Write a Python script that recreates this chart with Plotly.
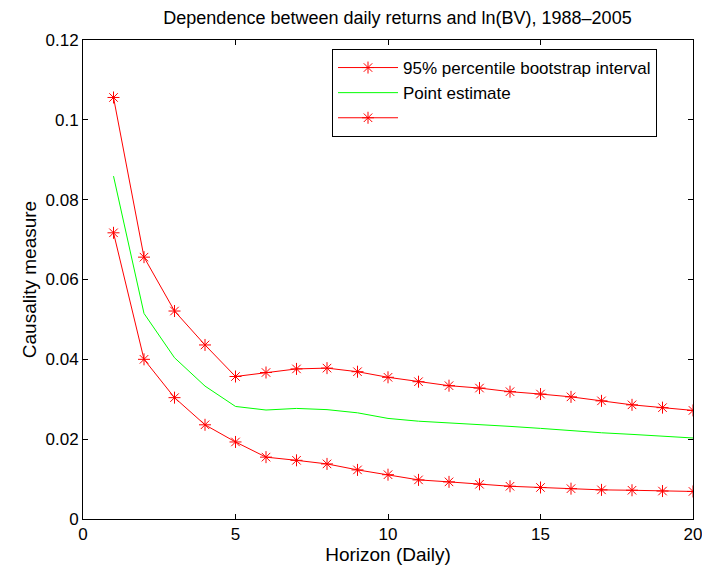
import plotly.graph_objects as go

horizon = list(range(1, 21))
upper = [0.1056, 0.0656, 0.0521, 0.0436, 0.0357, 0.0367, 0.0376, 0.0378, 0.0369, 0.0355,
         0.0344, 0.0334, 0.0328, 0.0319, 0.0313, 0.0306, 0.0296, 0.0286, 0.0279, 0.0272]
point_est = [0.0859, 0.0515, 0.0404, 0.0333, 0.0282, 0.0273, 0.0277, 0.0274, 0.0266, 0.0252,
             0.0245, 0.0241, 0.0236, 0.0232, 0.0227, 0.0221, 0.0216, 0.0212, 0.0208, 0.0203]
lower = [0.0717, 0.0400, 0.0304, 0.0236, 0.0193, 0.0155, 0.0147, 0.0138, 0.0123, 0.0111,
         0.0098, 0.0093, 0.0087, 0.0082, 0.0079, 0.0076, 0.0073, 0.0072, 0.0070, 0.0069]

x_ticks = [0, 5, 10, 15, 20]
y_ticks = [0, 0.02, 0.04, 0.06, 0.08, 0.1, 0.12]
y_ticklabels = ["0", "0.02", "0.04", "0.06", "0.08", "0.1", "0.12"]

FONT = "Liberation Sans"
OFF = 8  # page body margin offset
marker = dict(symbol="asterisk-open", size=10, color="#ff0000", line=dict(color="#ff0000", width=1))

fig = go.Figure()
fig.add_trace(go.Scatter(x=horizon, y=upper, mode="lines+markers",
                         name="95% percentile bootstrap interval",
                         line=dict(color="#ff0000", width=1), marker=marker))
fig.add_trace(go.Scatter(x=horizon, y=point_est, mode="lines", name="Point estimate",
                         line=dict(color="#00ff00", width=1)))
fig.add_trace(go.Scatter(x=horizon, y=lower, mode="lines+markers", name=" ",
                         line=dict(color="#ff0000", width=1), marker=marker))

axis_common = dict(showgrid=False, zeroline=False, showline=True, linecolor="black",
                   linewidth=1, mirror="ticks", ticks="inside", ticklen=5, tickcolor="black",
                   automargin=False,
                   tickfont=dict(size=17, color="black", family=FONT))

fig.update_layout(
    width=710, height=572,
    margin=dict(l=83 - OFF, r=17 + OFF, t=40 - OFF, b=53 + OFF),
    paper_bgcolor="white", plot_bgcolor="white",
    font=dict(family=FONT, size=17, color="black"),
    title=dict(text="Dependence between daily returns and ln(BV), 1988\u20132005",
               x=(397.5 - OFF) / 710, xref="container", xanchor="center",
               y=1 - (18 - OFF) / 572, yref="container", yanchor="middle",
               font=dict(size=18, family=FONT, color="black")),
    xaxis=dict(range=[0, 20], tickvals=x_ticks,
               title=dict(text="Horizon (Daily)", standoff=0, font=dict(size=19)), **axis_common),
    yaxis=dict(range=[0, 0.12], tickvals=y_ticks, ticktext=y_ticklabels,
               title=dict(text="Causality measure", standoff=3, font=dict(size=19)), **axis_common),
    legend=dict(x=(332 - 83) / 610, y=(519 - 49) / 479, xanchor="left", yanchor="top",
                bordercolor="black", borderwidth=1, bgcolor="white",
                font=dict(size=17, family=FONT, color="black"),
                itemwidth=60, tracegroupgap=0),
    showlegend=True,
)

fig.write_html("out.html")
